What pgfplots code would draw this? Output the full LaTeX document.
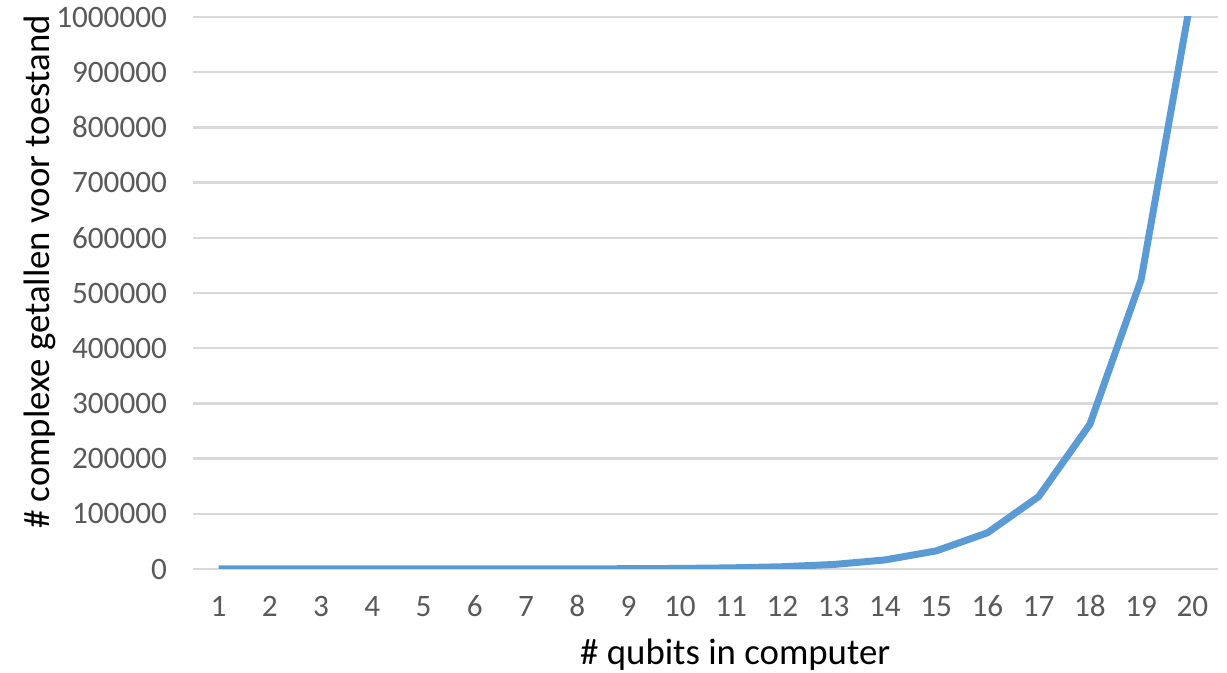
\documentclass[border=0pt]{standalone}
\usepackage{fontspec}
\setmainfont{Carlito}
\usepackage{pgfplots}
\pgfplotsset{compat=1.18}
\definecolor{linecol}{HTML}{5B9BD5}
\definecolor{gridcol}{HTML}{D9D9D9}
\definecolor{tickcol}{HTML}{595959}
\begin{document}
\begin{tikzpicture}
\useasboundingbox (0,0) rectangle (613.5bp,336.5bp);
\begin{axis}[
  at={(96.5bp,52bp)}, anchor=south west,
  scale only axis,
  width=512.5bp, height=276bp,
  xmin=0.5, xmax=20.5,
  ymin=0, ymax=1000000,
  xtick={1,...,20},
  ytick={0,100000,...,1000000},
  scaled y ticks=false,
  /pgf/number format/.cd, fixed, precision=0, set thousands separator={}, assume math mode=true,
  /pgfplots/.cd,
  axis line style={draw=none},
  major tick length=0pt,
  ymajorgrids,
  grid style={gridcol, line width=1.2bp},
  tick label style={font=\fontsize{15.6bp}{18bp}\selectfont, text=tickcol},
  yticklabel style={xshift=-9.5bp},
  xticklabel style={yshift=-9.5bp, text height=10.5bp, text depth=0bp},
  xlabel={\# qubits in computer},
  ylabel={\# complexe getallen voor toestand},
  label style={font=\fontsize{18.4bp}{22bp}\selectfont, text=black},
  xlabel style={at={(axis description cs:0.529,-0.156)}, anchor=center},
  ylabel style={at={(axis description cs:-0.149,0.538)}, anchor=center},
  clip=true,
]
\addplot[linecol, line width=3.5bp, line join=round] coordinates {
  (1,2) (2,4) (3,8) (4,16) (5,32) (6,64) (7,128) (8,256) (9,512) (10,1024)
  (11,2048) (12,4096) (13,8192) (14,16384) (15,32768) (16,65536)
  (17,131072) (18,262144) (19,524288) (20,1048576)
};
\end{axis}
\end{tikzpicture}
\end{document}
